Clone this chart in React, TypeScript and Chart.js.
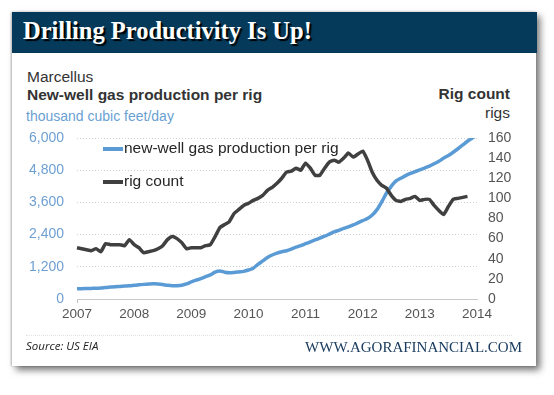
import React, { useEffect, useRef } from "react";
import { Chart, registerables } from "chart.js";

Chart.register(...registerables);

// Monthly categories Jan 2007 .. Jan 2014
const years = [2007, 2008, 2009, 2010, 2011, 2012, 2013, 2014];
const months: string[] = [];
years.forEach((y) => {
  const last = y === 2014 ? 1 : 12;
  for (let m = 1; m <= last; m++) months.push(`${y}-${String(m).padStart(2, "0")}`);
});

// New-well gas production per rig (thousand cubic feet/day)
const production = [
  380, 385, 390, 395, 400, 410, 430, 445, 460, 470, 480, 490,
  510, 530, 545, 555, 565, 560, 540, 510, 490, 495, 515, 560,
  640, 700, 760, 830, 900, 1000, 1040, 1000, 980, 990, 1010, 1030,
  1080, 1150, 1290, 1420, 1550, 1640, 1710, 1760, 1800, 1860, 1930, 1990,
  2060, 2130, 2200, 2270, 2340, 2420, 2500, 2560, 2630, 2690, 2760, 2840,
  2920, 3000, 3130, 3330, 3620, 3950, 4200, 4400, 4500, 4600, 4680, 4750,
  4810, 4880, 4950, 5040, 5130, 5250, 5350, 5470, 5600, 5740, 5880, 6000,
  6120,
];

// Rig count (rigs)
const rigCount: (number | null)[] = [
  51, 50, 49, 48, 50, 47, 55, 54, 54, 54, 53, 59,
  54, 51, 46, 47, 48, 50, 53, 59, 62, 60, 56, 50,
  51, 51, 51, 53, 54, 62, 71, 74, 77, 85, 89, 93,
  95, 98, 100, 103, 108, 111, 115, 120, 126, 127, 130, 128,
  135, 130, 123, 123, 130, 136, 138, 136, 140, 145, 141, 144,
  147, 138, 126, 118, 113, 110, 103, 98, 97, 99, 100, 102,
  98, 99, 99, 93, 88, 84, 92, 99, 100, 101, 102, null,
  null,
];

const leftTicks = [0, 1200, 2400, 3600, 4800, 6000];
const rightTicks = [0, 20, 40, 60, 80, 100, 120, 140, 160];

const BLUE = "#5b9bd5";
const DARK = "#404040";
const SANS = "'Liberation Sans', Arial, sans-serif";

const insideLegend = {
  id: "insideLegend",
  afterDatasetsDraw(chart: any) {
    const { ctx, chartArea } = chart;
    const ds = chart.data.datasets;
    ctx.save();
    ds.forEach((d: any, i: number) => {
      const x = chartArea.left + 26;
      const y = chartArea.top + 11 + i * 33;
      ctx.strokeStyle = d.borderColor;
      ctx.lineWidth = 4;
      ctx.beginPath();
      ctx.moveTo(x, y);
      ctx.lineTo(x + 20, y);
      ctx.stroke();
      ctx.fillStyle = "#262626";
      ctx.font = `15.5px ${SANS}`;
      ctx.textBaseline = "middle";
      ctx.textAlign = "left";
      ctx.fillText(d.label, x + 21, y);
    });
    ctx.restore();
  },
};

export default function App() {
  const ref = useRef<HTMLCanvasElement>(null);

  useEffect(() => {
    if (!ref.current) return;
    const chart = new Chart(ref.current, {
      type: "line",
      data: {
        labels: months,
        datasets: [
          {
            label: "new-well gas production per rig",
            data: production,
            borderColor: BLUE,
            backgroundColor: BLUE,
            borderWidth: 3.5,
            pointRadius: 0,
            tension: 0.3,
            yAxisID: "y",
            order: 2,
          },
          {
            label: "rig count",
            data: rigCount,
            borderColor: DARK,
            backgroundColor: DARK,
            borderWidth: 3.5,
            pointRadius: 0,
            tension: 0.15,
            yAxisID: "y1",
            order: 1,
          },
        ],
      },
      options: {
        animation: false,
        responsive: false,
        maintainAspectRatio: false,
        layout: { padding: { left: 27, right: 27, top: 138, bottom: 66 } },
        plugins: { legend: { display: false }, tooltip: { enabled: false } },
        scales: {
          x: {
            type: "category",
            offset: false,
            afterFit: (s: any) => { s.height = 30; },
            grid: {
              drawOnChartArea: false,
              drawTicks: true,
              tickLength: 4,
              tickColor: (c: any) => (months[c.index] && months[c.index].endsWith("-01") ? "#bfbfbf" : "rgba(0,0,0,0)"),
            },
            border: { display: true, color: "#c8c8c8", width: 1 },
            ticks: {
              autoSkip: false,
              maxRotation: 0,
              padding: 3,
              color: "#555555",
              font: { family: SANS, size: 13.5 },
              callback: (_v: any, i: number) => (months[i].endsWith("-01") ? months[i].slice(0, 4) : null),
            },
          },
          y: {
            position: "left",
            min: 0,
            max: 6000,
            afterFit: (s: any) => { s.width = 50; },
            afterBuildTicks: (s: any) => { s.ticks = leftTicks.map((v) => ({ value: v })); },
            grid: { drawTicks: false, color: "#d0d0d0", lineWidth: 1 },
            border: { display: false, dash: [1, 2] },
            ticks: {
              padding: 13,
              color: "#6fa0d2",
              font: { family: SANS, size: 14 },
              callback: (v: any) => Number(v).toLocaleString("en-US"),
            },
          },
          y1: {
            position: "right",
            min: 0,
            max: 160,
            afterFit: (s: any) => { s.width = 50; },
            afterBuildTicks: (s: any) => { s.ticks = rightTicks.map((v) => ({ value: v })); },
            grid: { display: false, drawTicks: false },
            border: { display: false },
            ticks: {
              padding: 11,
              color: "#555555",
              font: { family: SANS, size: 14 },
            },
          },
        },
      },
      plugins: [insideLegend],
    });
    return () => chart.destroy();
  }, []);

  return (
    <div style={{ position: "absolute", left: 0, top: 0, width: 554, height: 395, background: "#ffffff", overflow: "hidden", fontFamily: SANS }}>
      <div style={{ position: "absolute", left: 12, top: 12, width: 524, height: 354, background: "#ffffff", boxShadow: "4px 4px 7px rgba(0,0,0,0.55), -1px 0 2px rgba(0,0,0,0.25)" }} />
      <div style={{ position: "absolute", left: 12, top: 12, width: 525, height: 41, background: "#053a5b" }} />
      <div style={{ position: "absolute", left: 23, top: 17, fontFamily: "'Liberation Serif', 'Times New Roman', serif", fontWeight: 700, fontSize: 24.5, lineHeight: "28px", color: "#ffffff", textShadow: "2px 2px 1px #000000", whiteSpace: "nowrap" }}>
        Drilling Productivity Is Up!
      </div>
      <div style={{ position: "absolute", left: 27, top: 68, fontSize: 15.5, lineHeight: "18px", color: "#333333", whiteSpace: "nowrap" }}>Marcellus</div>
      <div style={{ position: "absolute", left: 27, top: 86, fontSize: 15.5, lineHeight: "18px", fontWeight: 700, color: "#333333", whiteSpace: "nowrap" }}>New-well gas production per rig</div>
      <div style={{ position: "absolute", left: 26, top: 108, fontSize: 14, lineHeight: "17px", color: "#6a9fd4", whiteSpace: "nowrap" }}>thousand cubic feet/day</div>
      <div style={{ position: "absolute", right: 554 - 510, top: 85, fontSize: 15.5, lineHeight: "18px", fontWeight: 700, color: "#333333", whiteSpace: "nowrap", textAlign: "right" }}>Rig count</div>
      <div style={{ position: "absolute", right: 554 - 510, top: 104, fontSize: 15.5, lineHeight: "18px", color: "#333333", whiteSpace: "nowrap", textAlign: "right" }}>rigs</div>
      <canvas ref={ref} width={554} height={395} style={{ position: "absolute", left: 0, top: 0, width: 554, height: 395 }} />
      <div style={{ position: "absolute", left: 26, top: 335, width: 486, borderTop: "1px dotted #e2e2e2" }} />
      <div style={{ position: "absolute", left: 26, top: 339, fontSize: 11.5, lineHeight: "14px", fontStyle: "italic", color: "#222222", fontFamily: "'Open Sans', 'Liberation Sans', sans-serif", whiteSpace: "nowrap" }}>Source: US EIA</div>
      <div style={{ position: "absolute", right: 554 - 522, top: 338, fontSize: 15, lineHeight: "18px", color: "#1b3d60", fontFamily: "'Liberation Serif', 'Times New Roman', serif", whiteSpace: "nowrap", textAlign: "right" }}>WWW.AGORAFINANCIAL.COM</div>
    </div>
  );
}
